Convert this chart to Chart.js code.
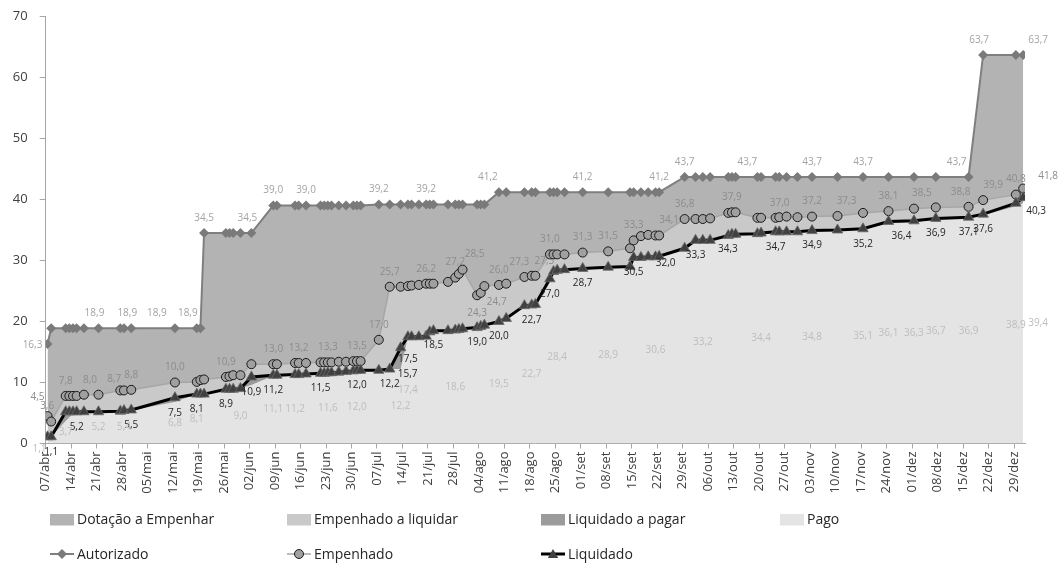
<!DOCTYPE html>
<html><head><meta charset="utf-8">
<script src="https://cdn.jsdelivr.net/npm/chart.js@4.4.1/dist/chart.umd.min.js"></script>
<style>html,body{margin:0;padding:0;background:#fff}canvas{display:block}</style>
</head><body>
<canvas id="c" width="1058" height="566"></canvas>
<script>
// ---------- data ----------
const datas = [
 "07/04","08/04","12/04","13/04","14/04","15/04","17/04","21/04","27/04","28/04",
 "30/04","12/05","18/05","19/05","20/05","26/05","27/05","28/05","30/05","02/06",
 "08/06","09/06","14/06","15/06","17/06","21/06","22/06","23/06","24/06","26/06",
 "28/06","30/06","01/07","02/07","07/07","10/07","13/07","15/07","16/07","18/07",
 "20/07","21/07","22/07","26/07","28/07","29/07","30/07","03/08","04/08","05/08",
 "09/08","11/08","16/08","18/08","19/08","23/08","24/08","25/08","27/08","01/09",
 "08/09","14/09","15/09","17/09","19/09","21/09","22/09","29/09","02/10","04/10",
 "06/10","11/10","12/10","13/10","19/10","20/10","24/10","25/10","27/10","30/10",
 "03/11","10/11","17/11","24/11","01/12","07/12","16/12","20/12","29/12","31/12"];

const autorizado = [
 16.3,18.9,18.9,18.9,18.9,18.9,18.9,18.9,18.9,18.9,
 18.9,18.9,18.9,18.9,34.5,34.5,34.5,34.5,34.5,34.5,
 39.0,39.0,39.0,39.0,39.0,39.0,39.0,39.0,39.0,39.0,
 39.0,39.0,39.0,39.0,39.2,39.2,39.2,39.2,39.2,39.2,
 39.2,39.2,39.2,39.2,39.2,39.2,39.2,39.2,39.2,39.2,
 41.2,41.2,41.2,41.2,41.2,41.2,41.2,41.2,41.2,41.2,
 41.2,41.2,41.2,41.2,41.2,41.2,41.2,43.7,43.7,43.7,
 43.7,43.7,43.7,43.7,43.7,43.7,43.7,43.7,43.7,43.7,
 43.7,43.7,43.7,43.7,43.7,43.7,43.7,63.7,63.7,63.7];

const empenhado = [
 4.5,3.6,7.8,7.8,7.8,7.8,8.0,8.0,8.7,8.7,
 8.8,10.0,10.1,10.4,10.5,10.9,11.0,11.2,11.2,13.0,
 13.0,13.0,13.2,13.2,13.2,13.3,13.3,13.3,13.3,13.4,
 13.4,13.5,13.5,13.5,17.0,25.7,25.7,25.8,25.9,26.0,
 26.2,26.2,26.2,26.5,27.2,27.8,28.5,24.3,24.7,25.8,
 26.0,26.2,27.3,27.5,27.5,31.0,31.0,31.0,31.0,31.3,
 31.5,32.0,33.3,34.0,34.2,34.1,34.1,36.8,36.8,36.8,
 36.9,37.8,37.9,37.9,37.0,37.0,37.0,37.1,37.2,37.1,
 37.2,37.3,37.8,38.1,38.5,38.7,38.8,39.9,40.8,41.8];

const liquidado = [
 1.1,1.1,5.2,5.2,5.2,5.2,5.2,5.2,5.3,5.4,
 5.5,7.5,8.1,8.1,8.1,8.9,8.9,8.9,9.0,10.9,
 11.2,11.2,11.3,11.3,11.4,11.5,11.5,11.6,11.6,11.7,
 11.8,11.9,12.0,12.0,12.0,12.2,15.7,17.5,17.5,17.5,
 17.6,18.3,18.5,18.5,18.6,18.7,18.8,19.0,19.2,19.4,
 20.0,20.5,22.6,22.7,22.8,27.0,28.2,28.4,28.5,28.7,
 28.9,29.0,30.5,30.5,30.6,30.6,30.7,32.0,33.3,33.3,
 33.3,34.1,34.3,34.3,34.4,34.5,34.7,34.7,34.7,34.7,
 34.9,35.0,35.2,36.4,36.5,36.9,37.1,37.6,39.4,40.3];

const pago = [
 1.1,1.1,3.7,4.3,4.8,5.2,5.2,5.2,5.3,5.4,
 5.4,6.8,8.1,8.1,8.1,8.6,8.8,8.9,9.0,9.6,
 11.1,11.1,11.2,11.2,11.3,11.5,11.5,11.6,11.6,11.7,
 11.8,11.9,12.0,12.0,12.0,12.2,12.2,17.4,17.4,17.4,
 17.5,18.2,18.4,18.5,18.6,18.7,18.8,19.0,19.2,19.4,
 19.5,20.3,22.5,22.7,22.7,27.0,28.2,28.4,28.4,28.7,
 28.9,28.9,30.2,30.5,30.6,30.6,30.6,31.8,33.2,33.2,
 33.2,34.0,34.1,34.2,34.3,34.4,34.5,34.6,34.6,34.7,
 34.8,34.9,35.1,36.1,36.3,36.7,36.9,37.4,38.9,39.4];

const tickLabels = ["07/abr","14/abr","21/abr","28/abr","05/mai","12/mai","19/mai","26/mai",
 "02/jun","09/jun","16/jun","23/jun","30/jun","07/jul","14/jul","21/jul","28/jul","04/ago",
 "11/ago","18/ago","25/ago","01/set","08/set","15/set","22/set","29/set","06/out","13/out",
 "20/out","27/out","03/nov","10/nov","17/nov","24/nov","01/dez","08/dez","15/dez","22/dez","29/dez"];

// indices of points that carry a value label
const autLabels = [0,7,10,11,12,14,19,20,24,34,40,50,59,66,67,74,80,82,86,87,89];
const empLabels = [0,1,2,6,8,10,11,15,20,23,27,32,34,35,40,44,46,47,48,50,52,54,55,59,60,62,66,67,72,76,80,81,83,84,86,87,88,89];
const liqLabels = [1,5,10,11,12,15,19,20,25,32,35,36,37,42,47,50,53,55,59,62,67,68,72,76,80,82,83,85,86,87,89];
const pagoLabels = [0,2,7,9,11,12,18,20,22,27,32,36,37,44,50,53,57,60,65,69,75,80,82,83,84,85,86,88,89];

// label placement tweaks (pixels), keyed by point index
const labelNudge = {
  aut: {0:[-15,16], 7:[-4,0], 10:[-4,0], 11:[-18,0], 12:[-9,0], 19:[-4,0], 50:[-11,0], 74:[-10,0], 86:[-12,0], 87:[-4,0], 89:[15,0]},
  emp: {0:[-10,-4], 1:[-4,0], 6:[6,0], 8:[-6,4], 46:[12,0], 47:[0,33], 48:[16,24], 52:[-5,0], 54:[9,0], 66:[10,0], 76:[4,0], 81:[9,0], 84:[8,0], 86:[-8,0], 87:[10,0], 89:[25,3]},
  liq: {36:[7,11], 37:[0,7], 67:[-19,0], 72:[-4,0], 83:[13,0], 89:[13,-2]},
  pago: {0:[-8,9], 89:[15,0]}
};

const areaLegend = ["Dotação a Empenhar","Empenhado a liquidar","Liquidado a pagar","Pago"];
const lineLegend = ["Autorizado","Empenhado","Liquidado"];

// ---------- helpers ----------
const monthStart = [0,31,59,90,120,151,181,212,243,273,304,334];
const monthNames = {jan:1,fev:2,mar:3,abr:4,mai:5,jun:6,jul:7,ago:8,set:9,out:10,nov:11,dez:12};
function dayOfYear(s){
  const [d,m] = s.split('/');
  const mi = isNaN(+m) ? monthNames[m] : +m;
  return monthStart[mi-1] + (+d);
}
const xs = datas.map(d => dayOfYear(d) + 0.5);
const pts = arr => arr.map((v,i) => ({x: xs[i], y: v}));
const fmt = v => v.toFixed(1).replace('.', ',');

const FONT = '"Open Sans", "Noto Sans", sans-serif';
const C = {
  dot: '#b3b3b3', empArea: '#c9c9c9', liqArea: '#9b9b9b', pago: '#e4e4e4',
  autLine: '#7f7f7f', empLine: '#a6a6a6', liqLine: '#000000'
};

const labelPlugin = {
  id: 'valueLabels',
  afterDatasetsDraw(chart){
    const ctx = chart.ctx, ys = chart.scales.y;
    ctx.save();
    ctx.font = '10px ' + FONT;
    ctx.textAlign = 'center';
    ctx.textBaseline = 'middle';
    const meta = i => chart.getDatasetMeta(i).data;
    const series = [
      {key: 'aut', ds: 3, vals: autorizado, idx: autLabels, color: '#a3a3a3', dy: -15},
      {key: 'emp', ds: 2, vals: empenhado, idx: empLabels, color: '#8c8c8c', dy: -15},
      {key: 'liq', ds: 1, vals: liquidado, idx: liqLabels, color: '#262626', dy: 15},
      {key: 'pago', ds: 0, vals: pago, idx: pagoLabels, color: '#bdbdbd', mid: true}
    ];
    series.forEach(s => {
      ctx.fillStyle = s.color;
      s.idx.forEach(i => {
        const p = meta(s.ds)[i];
        let x = p.x;
        let y = s.mid ? ys.getPixelForValue(s.vals[i] / 2) : p.y + s.dy;
        const n = labelNudge[s.key][i];
        if (n) { x += n[0]; y += n[1]; }
        ctx.fillText(fmt(s.vals[i]), x, y);
      });
    });
    ctx.restore();
  }
};

const legendPlugin = {
  id: 'customLegend',
  afterDraw(chart){
    const ctx = chart.ctx;
    const cols = [50, 287, 541, 780];
    const fills = [C.dot, C.empArea, C.liqArea, C.pago];
    ctx.save();
    ctx.font = '14px ' + FONT;
    ctx.textBaseline = 'middle';
    ctx.textAlign = 'left';
    areaLegend.forEach((t, k) => {
      ctx.fillStyle = fills[k];
      ctx.fillRect(cols[k], 514, 24, 11.5);
      ctx.fillStyle = '#262626';
      ctx.fillText(t, cols[k] + 27, 520.5);
    });
    const styles = [
      {line: C.autLine, w: 2, ps: 'rectRot', r: 5, fill: '#7a7a7a', stroke: '#7a7a7a', bw: 0},
      {line: C.empLine, w: 1.5, ps: 'circle', r: 4.5, fill: '#a0a0a0', stroke: '#1a1a1a', bw: 1},
      {line: C.liqLine, w: 3, ps: 'triangle', r: 6, fill: '#404040', stroke: '#404040', bw: 0}
    ];
    lineLegend.forEach((t, k) => {
      const s = styles[k], x0 = cols[k], y0 = 554;
      ctx.strokeStyle = s.line; ctx.lineWidth = s.w;
      ctx.beginPath(); ctx.moveTo(x0, y0); ctx.lineTo(x0 + 24, y0); ctx.stroke();
      ctx.fillStyle = s.fill; ctx.strokeStyle = s.stroke; ctx.lineWidth = s.bw;
      Chart.helpers.drawPoint(ctx, {pointStyle: s.ps, radius: s.r, rotation: 0, borderWidth: s.bw}, x0 + 12, y0 + (k === 2 ? 1 : 0));
      ctx.fillStyle = '#262626';
      ctx.fillText(t, x0 + 27, 555.5);
    });
    ctx.restore();
  }
};

new Chart(document.getElementById('c'), {
  type: 'line',
  data: {
    datasets: [
      { label: 'Pago', data: pts(pago), order: 4, fill: 'origin',
        backgroundColor: C.pago, borderWidth: 0, pointRadius: 0 },
      { label: 'Liquidado', data: pts(liquidado), order: 1, fill: 0,
        backgroundColor: C.liqArea, borderColor: C.liqLine, borderWidth: 3,
        pointStyle: 'triangle', pointRadius: 6, pointBackgroundColor: '#404040',
        pointBorderColor: '#6a6a6a', pointBorderWidth: 0.8 },
      { label: 'Empenhado', data: pts(empenhado), order: 2, fill: 1,
        backgroundColor: C.empArea, borderColor: C.empLine, borderWidth: 1.5,
        pointStyle: 'circle', pointRadius: 4.5, pointBackgroundColor: '#a0a0a0',
        pointBorderColor: '#1a1a1a', pointBorderWidth: 1 },
      { label: 'Autorizado', data: pts(autorizado), order: 3, fill: 2,
        backgroundColor: C.dot, borderColor: C.autLine, borderWidth: 2,
        pointStyle: 'rectRot', pointRadius: 5, pointBackgroundColor: '#7a7a7a',
        pointBorderColor: '#7a7a7a', pointBorderWidth: 0 }
    ]
  },
  options: {
    responsive: false,
    animation: false,
    events: [],
    layout: { padding: { left: 0, right: 33, top: 16.5, bottom: 0 } },
    elements: { line: { tension: 0 } },
    scales: {
      x: {
        type: 'linear',
        min: dayOfYear(tickLabels[0]),
        max: dayOfYear('31/12') + 1,
        afterBuildTicks(axis){ axis.ticks = tickLabels.map(l => ({ value: dayOfYear(l) })); },
        afterFit(s){ s.height = 122.5; s.paddingLeft = 0; s.paddingRight = 0; },
        ticks: {
          autoSkip: false, maxRotation: 90, minRotation: 90, padding: 3,
          color: '#404040', font: { family: FONT, size: 13 },
          callback: (v, i) => tickLabels[i]
        },
        grid: { display: true, drawOnChartArea: false, drawTicks: true, tickLength: 5, color: '#a6a6a6' },
        border: { display: true, color: '#a6a6a6', width: 1 }
      },
      y: {
        min: 0, max: 70,
        afterFit(s){ s.width = 45.7; s.paddingTop = 0; s.paddingBottom = 0; },
        ticks: { stepSize: 10, padding: 12, color: '#404040', font: { family: FONT, size: 13 } },
        grid: { display: true, drawOnChartArea: false, drawTicks: true, tickLength: 6, color: '#a6a6a6' },
        border: { display: true, color: '#a6a6a6', width: 1 }
      }
    },
    plugins: { legend: { display: false }, tooltip: { enabled: false } }
  },
  plugins: [labelPlugin, legendPlugin]
});
</script>
</body></html>
